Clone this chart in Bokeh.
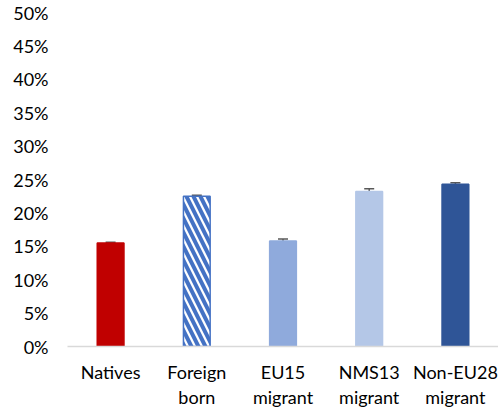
from bokeh.plotting import figure
from bokeh.models import ColumnDataSource, Whisker, FixedTicker, PrintfTickFormatter, TeeHead
from bokeh.embed import file_html
from bokeh.resources import INLINE

categories = ["Natives", "Foreign\nborn", "EU15\nmigrant", "NMS13\nmigrant", "Non-EU28\nmigrant"]
values = [15.5, 22.5, 15.8, 23.2, 24.3]
errors = [0.1, 0.15, 0.3, 0.4, 0.2]
colors = ["#C00000", "#FFFFFF", "#8FAADC", "#B4C7E7", "#2F5597"]
line_colors = ["#C00000", "#4472C4", "#8FAADC", "#B4C7E7", "#2F5597"]
hatches = ["blank", "left_diagonal_line", "blank", "blank", "blank"]
y_ticks = list(range(0, 51, 5))

src = ColumnDataSource(dict(
    x=categories, top=values,
    upper=[v + e for v, e in zip(values, errors)],
    lower=[v - e for v, e in zip(values, errors)],
    color=colors, lc=line_colors, hatch=hatches,
))

p = figure(x_range=categories, y_range=(0, 50), width=498, height=410,
           output_backend="svg", toolbar_location=None,
           min_border_left=67, min_border_right=0, min_border_top=12, min_border_bottom=61)
p.outline_line_color = None
p.background_fill_color = "white"
p.grid.visible = False

p.vbar(x="x", top="top", width=0.31, source=src, fill_color="color", line_color="lc",
       line_width=1.5, hatch_pattern="hatch", hatch_color="#4472C4", hatch_weight=4, hatch_scale=14)

p.add_layout(Whisker(base="x", upper="upper", lower="lower", source=src,
                     line_color="#595959", line_width=1.5,
                     upper_head=TeeHead(size=10, line_color="#595959", line_width=1.5),
                     lower_head=TeeHead(size=10, line_color="#595959", line_width=1.5)))

p.yaxis.ticker = FixedTicker(ticks=y_ticks)
p.yaxis.formatter = PrintfTickFormatter(format="%d%%")
p.yaxis.axis_line_color = None
p.yaxis.major_tick_line_color = None
p.yaxis.minor_tick_line_color = None
p.yaxis.major_label_standoff = 13
p.yaxis.major_label_text_font = "Lato"
p.yaxis.major_label_text_font_size = "18px"
p.yaxis.major_label_text_color = "#000000"

p.xaxis.axis_line_color = "#D9D9D9"
p.xaxis.axis_line_width = 1.5
p.xaxis.major_tick_line_color = None
p.xaxis.minor_tick_line_color = None
p.xaxis.major_label_standoff = 8
p.xaxis.major_label_text_font = "Lato"
p.xaxis.major_label_text_font_size = "18px"
p.xaxis.major_label_text_color = "#000000"
p.xaxis.major_label_text_line_height = 1.15

open("out.html", "w").write(file_html(p, INLINE))
